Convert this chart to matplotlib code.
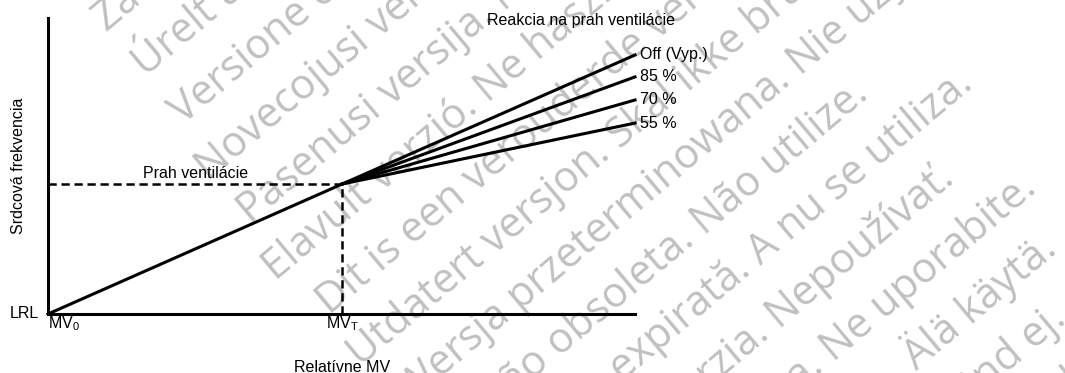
import numpy as np
import matplotlib.pyplot as plt

plt.rcParams['font.family'] = ['Liberation Sans', 'DejaVu Sans']
plt.rcParams['mathtext.fontset'] = 'custom'
plt.rcParams['mathtext.rm'] = 'Liberation Sans'
plt.rcParams['mathtext.it'] = 'Liberation Sans:italic'

# hodnoty v % rozsahu osi
mv_start = 0
mv_threshold = 50.1
mv_end = 100
hr_lrl = 0
hr_threshold = 43.9
response_labels = ['Off (Vyp.)', '85 %', '70 %', '55 %']
response_end_hr = [87.5, 80.1, 72.3, 64.5]

# vodoznak (riadky textu a posun zaciatku pozdlz riadku v px)
watermark_rows = [
    'Zastaralá verze. Nepoužívat.',
    'Úrelt útgáfa. Notið ekki.',
    'Versione obsoleta. Non utilizzare.',
    'Novecojusi versija. Neizmantot.',
    'Pasenusi versija. Nenaudokite.',
    'Elavult verzió. Ne használja!',
    'Dit is een verouderde versie. Niet gebruiken.',
    'Utdatert versjon. Skal ikke brukes.',
    'Wersja przeterminowana. Nie używać.',
    'Versão obsoleta. Não utilize.',
    'Versiune expirată. A nu se utiliza.',
    'Zastaraná verzia. Nepoužívať.',
    'Zastarela različica. Ne uporabite.',
    'Vanhentunut versio. Älä käytä.',
    'Föråldrad version. Använd ej.',
    'Güncel olmayan sürüm. Kullanmayın.',
]
watermark_start = [61, 62, 60, 43, 48, 30, 50, 40, 55, 55, 50, 45, 40, 60, 45, 50]

W, H = 1065, 373
fig = plt.figure(figsize=(W / 100, H / 100), dpi=100)

# pozadie s vodoznakom (px suradnice)
bg = fig.add_axes([0, 0, 1, 1], zorder=0)
bg.set_xlim(0, W)
bg.set_ylim(H, 0)
bg.axis('off')
ang = np.deg2rad(40)
for k, (txt, a) in enumerate(zip(watermark_rows, watermark_start)):
    d = 93 + 60 * k
    x = a * np.cos(ang) + d * np.sin(ang)
    y = -a * np.sin(ang) + d * np.cos(ang)
    bg.text(x, y, txt, rotation=40, rotation_mode='anchor', ha='left', va='baseline',
            fontsize=30, color='#c0c0c0', family=['Open Sans', 'DejaVu Sans'])

ax = fig.add_axes([48 / W, 59 / H, 587 / W, 296 / H], zorder=1)
ax.patch.set_alpha(0)
ax.set_xlim(0, 100)
ax.set_ylim(0, 100)
ax.set_xticks([])
ax.set_yticks([])
for s in ['top', 'right']:
    ax.spines[s].set_visible(False)
for s in ['left', 'bottom']:
    ax.spines[s].set_linewidth(2.2)
    ax.spines[s].set_capstyle('projecting')

# linearna odozva az po prah
ax.plot([mv_start, mv_threshold], [hr_lrl, hr_threshold], color='k', lw=2.2, clip_on=False)
# odozvy nad prahom
for lab, end in zip(response_labels, response_end_hr):
    ax.plot([mv_threshold, mv_end], [hr_threshold, end], color='k', lw=2.2, clip_on=False)
    ax.annotate(lab, (mv_end, end), xytext=(3.6, 0), textcoords='offset points',
                ha='left', va='center', fontsize=11.5)

# prerusovane ciary prahu
ax.plot([mv_start, mv_threshold], [hr_threshold, hr_threshold], color='k', lw=1.8,
        dashes=(3.3, 1.9), clip_on=False)
ax.plot([mv_threshold, mv_threshold], [hr_lrl, hr_threshold], color='k', lw=1.8,
        dashes=(3.3, 1.9), clip_on=False)

ax.text(74.8, 99.3, 'Reakcia na prah ventilácie', ha='left', va='center', fontsize=11.5)
ax.text(16.2, 46, 'Prah ventilácie', ha='left', va='baseline', fontsize=11.5)
ax.annotate('LRL', (mv_start, hr_lrl), xytext=(-6.5, 0), textcoords='offset points',
            ha='right', va='center', fontsize=11.5)
ax.annotate(r'MV$_{\mathregular{0}}$', (mv_start, hr_lrl), xytext=(0, -10),
            textcoords='offset points', ha='left', va='baseline', fontsize=11.5)
ax.annotate(r'MV$_{\mathregular{T}}$', (mv_threshold, hr_lrl), xytext=(0, -10),
            textcoords='offset points', ha='center', va='baseline', fontsize=11.5)
ax.annotate('Relatívne MV', (mv_threshold, hr_lrl), xytext=(0, -41.8),
            textcoords='offset points', ha='center', va='baseline', fontsize=11.5)
ax.text(-0.051, 0.5, 'Srdcová frekvencia', transform=ax.transAxes, rotation=90,
        ha='center', va='center', fontsize=11.5)

fig.savefig('out.png', dpi=100)
